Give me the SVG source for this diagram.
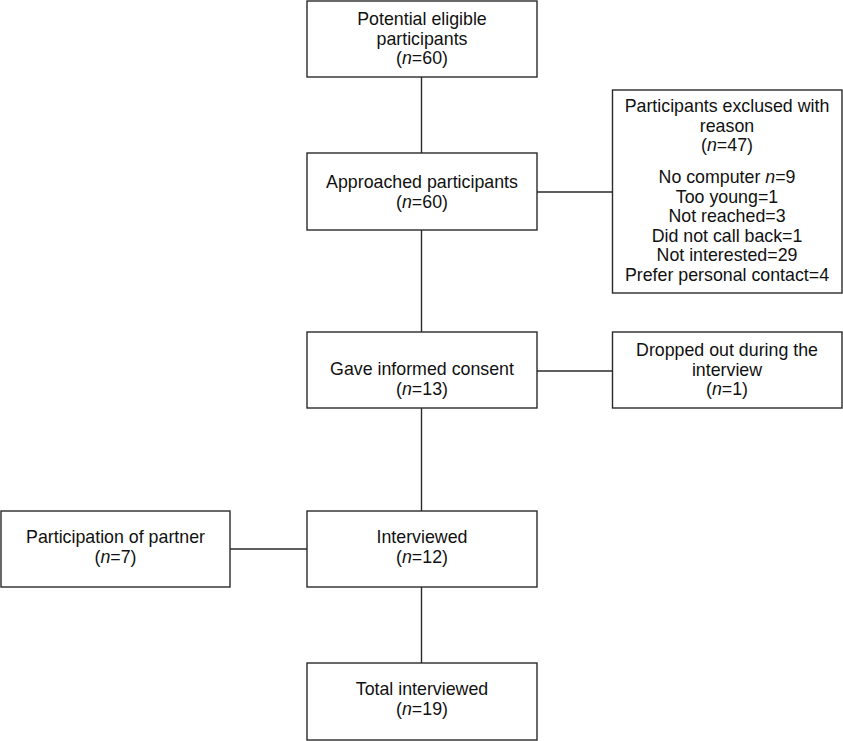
<svg xmlns="http://www.w3.org/2000/svg" width="843" height="741" viewBox="0 0 843 741">
<style>
.box{fill:#fff;stroke:#2a2a2a;stroke-width:1.4}
.ln{stroke:#2a2a2a;stroke-width:1.4;fill:none}
text{font-family:"Liberation Sans",Arial,sans-serif;font-size:17.8px;fill:#111;text-anchor:middle}
.i{font-style:italic}
</style>
<rect width="843" height="741" fill="#fff"/>
<g id="connectors">
<line class="ln" x1="421.5" y1="77" x2="421.5" y2="153"/>
<line class="ln" x1="421.5" y1="230" x2="421.5" y2="332"/>
<line class="ln" x1="421.5" y1="408" x2="421.5" y2="511"/>
<line class="ln" x1="421.5" y1="587" x2="421.5" y2="663"/>
<line class="ln" x1="537" y1="192" x2="612.5" y2="192"/>
<line class="ln" x1="537" y1="371" x2="612.5" y2="371"/>
<line class="ln" x1="230" y1="549" x2="307" y2="549"/>
</g>
<g id="potential">
<rect class="box" x="307" y="1" width="230" height="76"/>
<text x="422" y="25">Potential eligible</text>
<text x="422" y="44.5">participants</text>
<text x="422" y="64">(<tspan class="i">n</tspan>=60)</text>
</g>
<g id="approached">
<rect class="box" x="307" y="153" width="230" height="77"/>
<text x="422" y="188">Approached participants</text>
<text x="422" y="207.5">(<tspan class="i">n</tspan>=60)</text>
</g>
<g id="excluded">
<rect class="box" x="612.5" y="90" width="229.5" height="203"/>
<text x="727" y="112">Participants exclused with</text>
<text x="727" y="131.5">reason</text>
<text x="727" y="151">(<tspan class="i">n</tspan>=47)</text>
<text x="727" y="183">No computer <tspan class="i">n</tspan>=9</text>
<text x="727" y="202.5">Too young=1</text>
<text x="727" y="222">Not reached=3</text>
<text x="727" y="241.5">Did not call back=1</text>
<text x="727" y="261">Not interested=29</text>
<text x="727" y="280.5">Prefer personal contact=4</text>
</g>
<g id="consent">
<rect class="box" x="307" y="332" width="230" height="76"/>
<text x="422" y="375">Gave informed consent</text>
<text x="422" y="394.5">(<tspan class="i">n</tspan>=13)</text>
</g>
<g id="dropped">
<rect class="box" x="612.5" y="332" width="229.5" height="76"/>
<text x="727" y="356">Dropped out during the</text>
<text x="727" y="375.5">interview</text>
<text x="727" y="395">(<tspan class="i">n</tspan>=1)</text>
</g>
<g id="partner">
<rect class="box" x="1" y="511" width="229" height="76"/>
<text x="115.5" y="543">Participation of partner</text>
<text x="115.5" y="562.5">(<tspan class="i">n</tspan>=7)</text>
</g>
<g id="interviewed">
<rect class="box" x="307" y="511" width="230" height="76"/>
<text x="422" y="543">Interviewed</text>
<text x="422" y="562.5">(<tspan class="i">n</tspan>=12)</text>
</g>
<g id="total">
<rect class="box" x="307" y="663" width="230" height="77"/>
<text x="422" y="695">Total interviewed</text>
<text x="422" y="714.5">(<tspan class="i">n</tspan>=19)</text>
</g>
</svg>
